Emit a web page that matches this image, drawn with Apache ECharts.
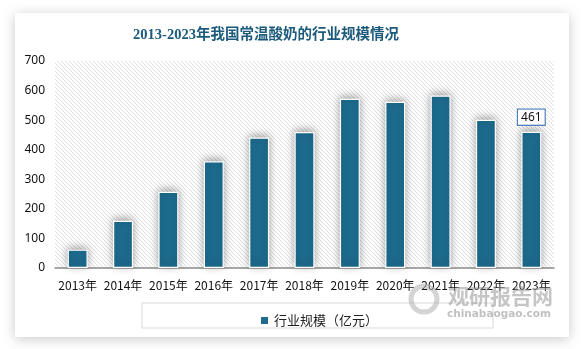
<!DOCTYPE html>
<html>
<head>
<meta charset="utf-8">
<script src="https://cdn.jsdelivr.net/npm/echarts@6/dist/echarts.min.js"></script>
<style>
  html, body { margin: 0; padding: 0; background: #fff; }
  #chart { width: 583px; height: 349px; }
</style>
</head>
<body>
<div id="chart"></div>
<script>
// Room-temperature yogurt industry size, 100 million yuan
const years = ['2013年', '2014年', '2015年', '2016年', '2017年', '2018年', '2019年', '2020年', '2021年', '2022年', '2023年'];
const marketSize = [62, 160, 258, 361, 441, 460, 572, 562, 583, 501, 461];
const yTicks = [0, 100, 200, 300, 400, 500, 600, 700];
const seriesName = '行业规模（亿元）';
const titleText = '2013-2023年我国常温酸奶的行业规模情况';

// Diagonal hatch used behind the plot
function hatchPattern() {
  const c = document.createElement('canvas');
  c.width = 4; c.height = 4;
  const g = c.getContext('2d');
  g.fillStyle = '#ffffff';
  g.fillRect(0, 0, 4, 4);
  g.strokeStyle = '#e0e0e0';
  g.lineWidth = 1;
  g.beginPath();
  g.moveTo(-1, -1); g.lineTo(5, 5);
  g.moveTo(-1, 3); g.lineTo(1, 5);
  g.moveTo(3, -1); g.lineTo(5, 1);
  g.stroke();
  return c;
}

const grid = { left: 55, right: 29, top: 61, bottom: 81 };
const W = 583, H = 349;

const chart = echarts.init(document.getElementById('chart'), null, { renderer: 'canvas' });
const lastIdx = marketSize.length - 1;

chart.setOption({
  animation: false,
  title: {
    text: titleText,
    left: 261, top: 23, textAlign: 'center',
    textStyle: { fontFamily: '"Liberation Serif", "Noto Sans CJK SC", serif', fontSize: 14.5, fontWeight: 'bold', color: '#1b5a7b' }
  },
  graphic: [
    {
      type: 'rect', z: -10, silent: true,
      shape: { x: 15, y: 13, width: 554, height: 324 },
      style: { fill: '#ffffff', shadowBlur: 12, shadowColor: 'rgba(0,0,0,0.22)', shadowOffsetX: 0, shadowOffsetY: 2 }
    },
    {
      type: 'rect', z: -5, silent: true,
      shape: { x: grid.left, y: grid.top, width: W - grid.left - grid.right, height: H - grid.top - grid.bottom },
      style: { fill: { image: hatchPattern(), repeat: 'repeat' } }
    },
    {
      type: 'rect', z: -4, silent: true,
      shape: { x: 142, y: 303, width: 351, height: 25 },
      style: { fill: '#ffffff', stroke: '#d9d9d9', lineWidth: 1 }
    },
    {
      type: 'text', z: 10, silent: true,
      left: 448, top: 286,
      style: { text: '观研报告网', fill: 'rgba(150,150,150,0.55)', font: 'bold 21px "Noto Sans CJK SC"' }
    },
    {
      type: 'text', z: 10, silent: true,
      left: 447, top: 309,
      style: { text: 'chinabaogao.com', fill: 'rgba(150,150,150,0.6)', font: 'bold 10.5px "DejaVu Sans"' }
    },
    {
      type: 'circle', z: 10, silent: true,
      shape: { cx: 424, cy: 299, r: 13 },
      style: { fill: 'none', stroke: 'rgba(170,170,170,0.5)', lineWidth: 5 }
    }
  ],
  legend: {
    data: [seriesName],
    left: 254, top: 309,
    itemWidth: 9, itemHeight: 9, itemGap: 6,
    icon: 'rect',
    textStyle: { fontFamily: '"Noto Sans CJK SC", sans-serif', fontSize: 13, color: '#222' }
  },
  grid: grid,
  xAxis: {
    type: 'category',
    data: years,
    axisLine: { show: true, lineStyle: { color: '#8c8c8c', width: 1.5 } },
    axisTick: { show: false },
    axisLabel: { interval: 0, margin: 11, fontFamily: '"Noto Sans CJK SC", sans-serif', fontSize: 12, color: '#111' }
  },
  yAxis: {
    type: 'value',
    min: yTicks[0], max: yTicks[yTicks.length - 1], interval: 100,
    axisLine: { show: false },
    axisTick: { show: false },
    splitLine: { show: false },
    axisLabel: { margin: 10, fontFamily: '"Noto Sans", sans-serif', fontSize: 12, color: '#111' }
  },
  series: [{
    name: seriesName,
    type: 'bar',
    data: marketSize.map((v, i) => i === lastIdx ? {
      value: v,
      label: {
        show: true, position: 'top', distance: 7,
        formatter: '{c}',
        fontFamily: '"Noto Sans", sans-serif', fontSize: 12, color: '#111',
        backgroundColor: '#ffffff', borderColor: '#4f81bd', borderWidth: 1.2,
        padding: [2, 3, 1, 3]
      }
    } : v),
    barWidth: 20,
    itemStyle: {
      color: '#1d6b8e',
      borderColor: '#ffffff', borderWidth: 1.2,
      shadowBlur: 8, shadowColor: 'rgba(0,0,0,0.35)', shadowOffsetX: 0, shadowOffsetY: -2
    }
  }]
});
</script>
</body>
</html>
